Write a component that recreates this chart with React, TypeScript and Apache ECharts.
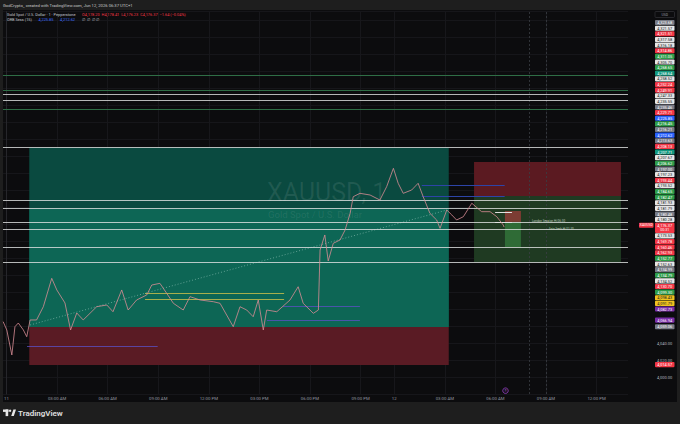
import React, { useEffect, useRef } from 'react';
import * as echarts from 'echarts';

// ---------- data ----------
const TIME_TICKS = [0, 180, 360, 540, 720, 900, 1080, 1260, 1380, 1560, 1740, 1920, 2100];
const TIME_LABELS = ['11', '03:00 AM', '06:00 AM', '09:00 AM', '12:00 PM', '03:00 PM', '06:00 PM', '09:00 PM', '12', '03:00 AM', '06:00 AM', '09:00 AM', '12:00 PM'];
const PRICE_TICKS = [4000, 4020, 4040];

// bar index (1-min bars, 0 = Jun 11 00:00) and close price
const BAR_INDEX = [-12, 1, 19, 30, 42, 60, 72, 84, 107, 131, 161, 179, 208, 228, 250, 273, 321, 357, 379, 410, 433, 463, 499, 517, 546, 570, 594, 629, 653, 689, 736, 760, 807, 831, 855, 878, 896, 914, 926, 962, 1009, 1038, 1056, 1092, 1110, 1116, 1133, 1145, 1163, 1187, 1205, 1223, 1234, 1258, 1294, 1329, 1353, 1377, 1394, 1412, 1442, 1465, 1483, 1507, 1531, 1543, 1567, 1585, 1602, 1626, 1656, 1691, 1721, 1745, 1768, 1771];
const CLOSE = [4065.1, 4055.3, 4025.9, 4059.2, 4063.5, 4055.3, 4047.4, 4067.1, 4067.1, 4082.7, 4116.1, 4102.4, 4087.1, 4055.3, 4075.3, 4067.1, 4082.7, 4084.7, 4076.8, 4102.4, 4078.8, 4090.6, 4096.5, 4108.2, 4110.2, 4098.5, 4086.7, 4078.8, 4094.5, 4090.6, 4088.6, 4086.7, 4059.2, 4082.7, 4078.8, 4070.9, 4090.6, 4055.3, 4078.8, 4076.8, 4090.6, 4106.2, 4086.7, 4074.9, 4078.8, 4149.4, 4167.1, 4136.5, 4157.3, 4161.2, 4172.9, 4192.6, 4212.1, 4216.1, 4214.1, 4208.2, 4223.9, 4245.5, 4227.9, 4216.1, 4220.0, 4227.9, 4212.1, 4192.6, 4184.7, 4174.9, 4196.5, 4190.6, 4184.7, 4188.6, 4204.4, 4194.5, 4194.5, 4188.6, 4178.8, 4176.37];

const WHITE_LEVELS = [4332.1, 4325.1, 4270.0, 4208.2, 4198.0, 4181.5, 4173.8, 4152.6, 4134.5];
const GREEN_LEVELS = [4354.9, 4337.3, 4314.5];

// zones: [startBar, endBar, upperPrice, lowerPrice]
const TARGET_ZONE = [81, 1574, 4270.0, 4058.8];
const TARGET_INNER = [81, 1574, 4198.0, 4058.8];
const STOP_ZONE = [81, 1574, 4058.8, 4014.1];
const SHORT_STOP = [1664, 2187, 4252.9, 4212.9];
const SHORT_TARGET = [1664, 2187, 4212.9, 4135.3];
const MINI_STOP = [1774, 1831, 4195.3, 4182.4];
const MINI_TARGET = [1774, 1831, 4182.4, 4152.9];

const ORB_LEVELS = [4225.85, 4212.62];
const ORB_RANGE = [1478, 1773];
const YELLOW_LEVELS = [4098.43, 4091.79];
const YELLOW_RANGE = [493, 988];
// [startBar, endBar, price]
const PURPLE_SEGMENTS = [[984, 1258, 4082.73], [927, 1258, 4066.94], [73, 538, 4035.6]];
const SWEEP_LEVELS = [4194.1, 4182.4];
const SWEEP_RANGE = [1739, 1799];
const TREND_START = [84, 4061.2];
const TREND_END = [1568, 4196.5];
const SESSION_MARKS = [1860, 1920];
const EVENT_BAR = 1776;

const NOTE_TEXTS = ['London Session Hi 06:30', 'Asia Sesh Hi 01:30'];
const NOTE_POINTS = [[1870, 4183.6], [1930, 4174.2]];

const STACK_VALUES = ['4,323.68', '4,321.57', '4,321.51', '4,317.58', '4,316.18', '4,314.86', '4,311.05', '4,305.70', '4,268.65', '4,268.64', '4,258.52', '4,252.24', '4,249.91', '4,247.33', '4,235.55', '4,235.46', '4,229.71', '4,225.85', '4,216.45', '4,216.21', '4,212.62', '4,213.63', '4,208.13', '4,207.71', '4,207.67', '4,206.62', '4,197.00', '4,197.23', '4,193.44', '4,193.52', '4,184.65', '4,182.47', '4,181.93', '4,181.79', '4,180.48', '4,180.28', '4,176.37', '4,173.53', '4,169.78', '4,160.46', '4,162.93', '4,152.77', '4,152.63', '4,134.99', '4,134.79', '4,134.52', '4,130.70', '4,099.30', '4,098.43', '4,091.79', '4,082.73'];
const STACK_KINDS = ['gray', 'white', 'red', 'white', 'white', 'red', 'green', 'white', 'green', 'teal', 'white', 'red', 'red', 'white', 'white', 'gray', 'red', 'blue', 'green', 'gray', 'blue', 'gray', 'red', 'teal', 'white', 'green', 'gray', 'white', 'red', 'white', 'green', 'green', 'white', 'white', 'gray', 'white', 'red', 'white', 'red', 'red', 'red', 'green', 'white', 'gray', 'green', 'white', 'red', 'green', 'yellow', 'yellow', 'purple'];
const CURRENT_INDEX = 36;
const COUNTDOWN = '00:31';
const FREE_VALUES = [4066.94, 4059.06, 4014.57];
const FREE_KINDS = ['purple', 'gray', 'red'];

const KIND_STYLE: Record<string, [string, string]> = {
  gray: ['#787b86', '#ffffff'],
  white: ['#e6e6e6', '#131722'],
  red: ['#f23645', '#ffffff'],
  green: ['#2e9d4a', '#ffffff'],
  teal: ['#12997f', '#ffffff'],
  blue: ['#2962ff', '#ffffff'],
  yellow: ['#f0c21f', '#131722'],
  purple: ['#7a2ea8', '#ffffff'],
};

const FONT = 'Roboto, "Liberation Sans", sans-serif';
const fmt = (v: number) => v.toLocaleString('en-US', { minimumFractionDigits: 2, maximumFractionDigits: 2 });

function seg(x1: number, x2: number, y: number, color: string, width = 1, type: any = 'solid') {
  return [
    { coord: [x1, y], lineStyle: { color, width, type } },
    { coord: [x2, y] },
  ];
}
function zone(z: number[], color: string) {
  return [{ coord: [z[0], z[2]], itemStyle: { color } }, { coord: [z[1], z[3]] }];
}

export default function App() {
  const ref = useRef<HTMLDivElement>(null);
  useEffect(() => {
    document.body.style.margin = '0';
    const chart = echarts.init(ref.current!, null, { renderer: 'svg' });
    const XMIN = -12.5;
    const XMAX = 2212;

    const gridLines: any[] = TIME_TICKS.map((t) => ({ xAxis: t, lineStyle: { color: '#17171b', width: 1, type: 'solid' } }));

    const lines: any[] = [];
    SESSION_MARKS.forEach((t) => lines.push({ xAxis: t, lineStyle: { color: '#3a3d44', width: 0.8, type: [2, 2] } }));
    GREEN_LEVELS.forEach((p) => lines.push(seg(XMIN, XMAX, p, '#2f6e46', 1)));
    WHITE_LEVELS.forEach((p) => lines.push(seg(XMIN, XMAX, p, 'rgba(225,228,228,0.8)', 1)));
    ORB_LEVELS.forEach((p) => lines.push(seg(ORB_RANGE[0], ORB_RANGE[1], p, '#2d44a8', 1)));
    YELLOW_LEVELS.forEach((p) => lines.push(seg(YELLOW_RANGE[0], YELLOW_RANGE[1], p, '#cfc24a', 0.8)));
    PURPLE_SEGMENTS.forEach((s) => lines.push(seg(s[0], s[1], s[2], '#5b4fc0', 0.8)));
    SWEEP_LEVELS.forEach((p) => lines.push(seg(SWEEP_RANGE[0], SWEEP_RANGE[1], p, '#e0e0e0', 1)));
    lines.push([
      { coord: TREND_START, lineStyle: { color: 'rgba(200,235,225,0.55)', width: 0.8, type: [1, 2] } },
      { coord: TREND_END },
    ]);

    const option: any = {
      animation: false,
      backgroundColor: '#1e1e1e',
      grid: { left: 3, right: 52, top: 11.5, bottom: 30, containLabel: false },
      xAxis: {
        type: 'value',
        min: XMIN,
        max: XMAX,
        axisLine: { show: false },
        axisTick: { show: false },
        splitLine: { show: false },
        axisLabel: {
          customValues: TIME_TICKS,
          formatter: (v: number) => {
            const i = TIME_TICKS.indexOf(v);
            return i >= 0 ? TIME_LABELS[i] : '';
          },
          color: '#9598a1',
          fontSize: 4.3,
          fontFamily: FONT,
          margin: 2,
        },
      },
      yAxis: {
        type: 'value',
        position: 'right',
        min: 3980,
        max: 4430,
        interval: 20,
        axisLine: { show: true, lineStyle: { color: '#26262b' } },
        axisTick: { show: false },
        splitLine: { show: true, lineStyle: { color: '#16161a', width: 1 } },
        axisLabel: {
          customValues: PRICE_TICKS,
          formatter: (v: number) => fmt(v),
          color: '#b2b5be',
          fontSize: 4,
          fontFamily: FONT,
          margin: 29,
        },
      },
      series: [
        {
          type: 'line',
          data: [],
          silent: true,
          z: 0,
          markLine: {
            z: 0,
            silent: true,
            symbol: ['none', 'none'],
            label: { show: false },
            data: gridLines,
          },
        },
        {
          type: 'line',
          data: [],
          silent: true,
          z: 1,
          markArea: {
            z: 1,
            silent: true,
            data: [
              zone(TARGET_ZONE, '#0a4a40'),
              zone(TARGET_INNER, '#0d6655'),
              zone(STOP_ZONE, '#5a1b24'),
              zone(SHORT_STOP, '#5b1a21'),
              zone(SHORT_TARGET, '#1f3a22'),
              zone(MINI_STOP, '#7c3c33'),
              zone(MINI_TARGET, '#2f6b36'),
            ],
          },
        },
        {
          type: 'line',
          data: [],
          silent: true,
          z: 2,
          markLine: {
            z: 5,
            silent: true,
            symbol: ['none', 'none'],
            label: { show: false },
            data: lines,
          },
        },
        {
          type: 'line',
          name: 'XAUUSD',
          z: 10,
          data: BAR_INDEX.map((b, i) => [b, CLOSE[i]]),
          showSymbol: false,
          symbol: 'none',
          lineStyle: { color: '#d98d95', width: 0.8 },
          silent: true,
        },
      ],
    };
    chart.setOption(option);

    const px = (x: number, y: number) => chart.convertToPixel({ gridIndex: 0 }, [x, y]) as number[];

    const g: any[] = [];
    // pane background
    g.push({ type: 'rect', z: -10, silent: true, shape: { x: 3, y: 10, width: 674, height: 392 }, style: { fill: '#0c0c0e' } });
    // header
    g.push({
      type: 'text', z: 50, x: 3, y: 5,
      style: { text: 'GodCrypto_ created with TradingView.com, Jun 12, 2026 06:37 UTC+1', fontSize: 4.2, fill: '#c8c8c8', fontFamily: FONT, verticalAlign: 'middle' },
    });
    g.push({
      type: 'text', z: 50, x: 7, y: 14.5,
      style: {
        text: '{n|Gold Spot / U.S. Dollar · 1 · Pepperstone}  {r|O4,178.20  H4,178.41  L4,176.23  C4,176.37  −1.64 (−0.04%)}',
        verticalAlign: 'middle',
        rich: {
          n: { fontSize: 3.9, fill: '#c3c5cc', fontFamily: FONT },
          r: { fontSize: 3.9, fill: '#f23645', fontFamily: FONT },
        },
      },
    });
    g.push({
      type: 'text', z: 50, x: 7, y: 19.5,
      style: {
        text: '{n|ORB Sess (15)}  {b|4,225.85}  {b|4,212.62}  {n|∅  ∅  ∅  ∅}',
        verticalAlign: 'middle',
        rich: {
          n: { fontSize: 3.9, fill: '#c3c5cc', fontFamily: FONT },
          b: { fontSize: 3.9, fill: '#3b6cff', fontFamily: FONT },
        },
      },
    });
    // watermark
    g.push({
      type: 'text', z: 3, x: 267, y: 192, silent: true,
      style: { text: 'XAUUSD, 1', fontSize: 25, fill: 'rgba(255,255,255,0.09)', fontFamily: FONT, verticalAlign: 'middle' },
    });
    g.push({
      type: 'text', z: 3, x: 268, y: 214, silent: true,
      style: { text: 'Gold Spot / U.S. Dollar', fontSize: 9.5, fill: 'rgba(255,255,255,0.09)', fontFamily: FONT, verticalAlign: 'middle' },
    });
    // notes
    NOTE_TEXTS.forEach((t, i) => {
      const p = px(NOTE_POINTS[i][0], NOTE_POINTS[i][1]);
      g.push({ type: 'text', z: 20, x: p[0], y: p[1], style: { text: t, fontSize: 3, fill: '#b9c7b9', fontFamily: FONT, verticalAlign: 'middle' } });
    });
    // event marker
    const ev = px(EVENT_BAR, 4000);
    g.push({ type: 'circle', z: 20, shape: { cx: ev[0], cy: 390.7, r: 2.8 }, style: { fill: '#1b1022', stroke: '#8e3fb8', lineWidth: 0.8 } });
    g.push({ type: 'text', z: 21, x: ev[0], y: 390.8, style: { text: '?', fontSize: 3.2, fill: '#b77ad6', align: 'center', verticalAlign: 'middle', fontFamily: FONT } });

    // USD box
    g.push({ type: 'rect', z: 30, shape: { x: 655, y: 11.5, width: 19.5, height: 6, r: 1 }, style: { fill: '#0c0c0e', stroke: '#3a3a40', lineWidth: 0.6 } });
    g.push({ type: 'text', z: 31, x: 664.75, y: 14.6, style: { text: 'USD', fontSize: 3.4, fill: '#9598a1', align: 'center', verticalAlign: 'middle', fontFamily: FONT } });

    // stacked price tags
    const STEP = 5.63;
    const H = 5.1;
    const addTag = (top: number, label: string, kind: string, h = H) => {
      const [bg, fg] = KIND_STYLE[kind];
      g.push({ type: 'rect', z: 30, shape: { x: 655, y: top, width: 19.5, height: h, r: 0.8 }, style: { fill: bg } });
      g.push({ type: 'text', z: 31, x: 664.75, y: top + H / 2 + 0.1, style: { text: label, fontSize: 3.9, fill: fg, align: 'center', verticalAlign: 'middle', fontFamily: FONT } });
    };
    let top = 20;
    STACK_VALUES.forEach((v, i) => {
      if (i === CURRENT_INDEX) {
        addTag(top, v, STACK_KINDS[i], 10.2);
        g.push({ type: 'text', z: 31, x: 664.75, y: top + 7.7, style: { text: COUNTDOWN, fontSize: 3.6, fill: '#ffffff', align: 'center', verticalAlign: 'middle', fontFamily: FONT } });
        g.push({ type: 'rect', z: 30, shape: { x: 639, y: top, width: 14.5, height: H, r: 0.8 }, style: { fill: '#f23645' } });
        g.push({ type: 'text', z: 31, x: 646.25, y: top + H / 2 + 0.1, style: { text: 'XAUUSD', fontSize: 3.4, fill: '#ffffff', align: 'center', verticalAlign: 'middle', fontFamily: FONT } });
        top += STEP + 5;
      } else {
        addTag(top, v, STACK_KINDS[i]);
        top += STEP;
      }
    });
    FREE_VALUES.forEach((v, i) => {
      const p = px(0, v);
      addTag(p[1] - H / 2, fmt(v), FREE_KINDS[i]);
    });

    // footer logo
    g.push({ type: 'rect', z: 40, shape: { x: 3, y: 409.5, width: 5.5, height: 2.4 }, style: { fill: '#e8e8e8' } });
    g.push({ type: 'rect', z: 40, shape: { x: 5.6, y: 409.5, width: 2.6, height: 6.6 }, style: { fill: '#e8e8e8' } });
    g.push({ type: 'circle', z: 40, shape: { cx: 10.1, cy: 410.7, r: 1.2 }, style: { fill: '#e8e8e8' } });
    g.push({ type: 'polygon', z: 40, shape: { points: [[11.2, 416.1], [13.4, 409.5], [16, 409.5], [13.8, 416.1]] }, style: { fill: '#e8e8e8' } });
    g.push({ type: 'text', z: 40, x: 18, y: 413, style: { text: 'TradingView', fontSize: 8, fontWeight: 600, fill: '#e0e0e0', verticalAlign: 'middle', fontFamily: FONT } });

    chart.setOption({ graphic: g });
    return () => chart.dispose();
  }, []);
  return <div ref={ref} style={{ width: 680, height: 424 }} />;
}
